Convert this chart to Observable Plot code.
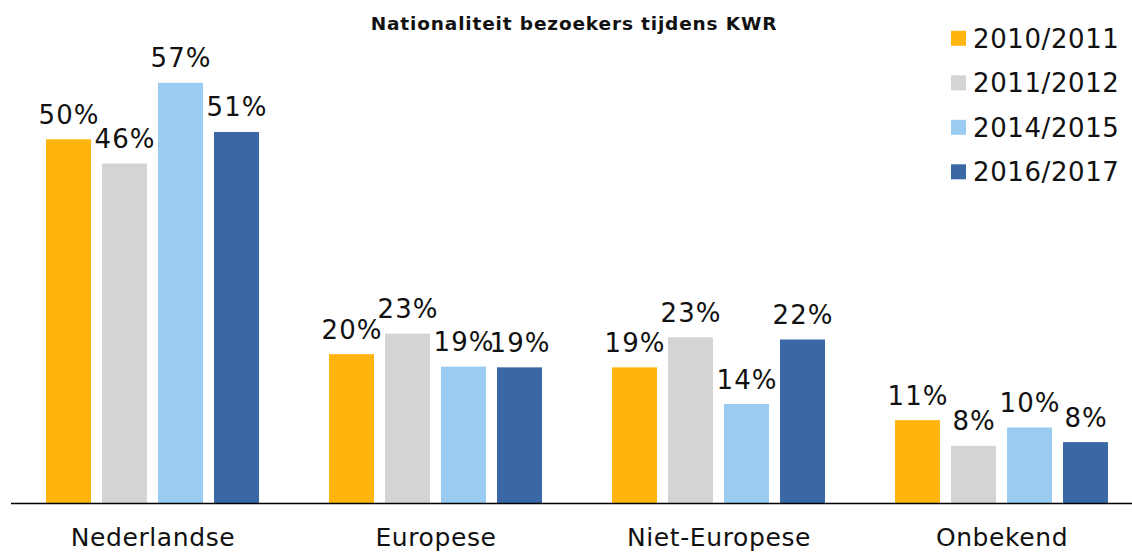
<!DOCTYPE html>
<html>
<head>
<meta charset="utf-8">
<script src="https://cdn.jsdelivr.net/npm/d3@7"></script>
<script src="https://cdn.jsdelivr.net/npm/@observablehq/plot@0.6"></script>
<style>
  html, body { margin: 0; padding: 0; background: #fff; }
  #wrap { position: relative; width: 1132px; height: 554px; overflow: hidden; font-family: "DejaVu Sans", Verdana, sans-serif; }
  #wrap svg { position: absolute; left: 0; top: 0; }
  .vlab text { letter-spacing: 1px; }
  .catax text { letter-spacing: 0.6px; }
</style>
</head>
<body>
<div id="wrap"></div>
<script>
const title = "Nationaliteit bezoekers tijdens KWR";
const categories = ["Nederlandse", "Europese", "Niet-Europese", "Onbekend"];
const seasons = ["2010/2011", "2011/2012", "2014/2015", "2016/2017"];
const colors = ["#FFB50D", "#D4D4D4", "#9ACBF0", "#3A68A6"];
const v2010 = [49.6, 20.3, 18.5, 11.3];
const v2011 = [46.3, 23.1, 22.6, 7.8];
const v2014 = [57.3, 18.6, 13.5, 10.3];
const v2016 = [50.6, 18.5, 22.3, 8.3];

const series = [v2010, v2011, v2014, v2016];
const data = [];
categories.forEach((c, i) => {
  seasons.forEach((s, j) => {
    data.push({category: c, season: s, value: series[j][i]});
  });
});

const chart = Plot.plot({
  width: 1132,
  height: 554,
  marginTop: 0,
  marginBottom: 51,
  marginLeft: 9,
  marginRight: -12,
  style: {fontFamily: "'DejaVu Sans', Verdana, sans-serif", background: "transparent"},
  fx: {domain: categories, padding: 0, label: null},
  x: {domain: seasons, paddingInner: 0.194, paddingOuter: 0.6, axis: null},
  y: {domain: [0, 68.6], axis: null},
  color: {domain: seasons, range: colors},
  marks: [
    Plot.barY(data, {fx: "category", x: "season", y: "value", fill: "season"}),
    Plot.text(data, {fx: "category", x: "season", y: "value", text: d => Math.round(d.value) + "%",
      lineAnchor: "bottom", dy: -16, fontSize: 26, fill: "#111", className: "vlab"}),
    Plot.ruleY([0], {stroke: "#000", strokeWidth: 1.5}),
    Plot.axisFx({anchor: "bottom", tickSize: 0, tickPadding: 25, fontSize: 25, label: null, fill: "#111", className: "catax"})
  ]
});
document.getElementById("wrap").appendChild(chart);

// title + legend overlay
const ov = d3.select("#wrap").append("svg").attr("width", 1132).attr("height", 554)
  .style("font-family", "'DejaVu Sans', Verdana, sans-serif");
ov.append("text").attr("x", 574).attr("y", 29.5).attr("text-anchor", "middle")
  .attr("font-weight", "bold").attr("font-size", 18.5).attr("letter-spacing", "0.85px")
  .attr("fill", "#111").text(title);
const lg = ov.selectAll("g.lg").data(seasons).join("g").attr("class", "lg")
  .attr("transform", (d, i) => `translate(951, ${38.3 + i * 44.5})`);
lg.append("rect").attr("x", 0).attr("y", -7.5).attr("width", 15).attr("height", 15)
  .attr("fill", (d, i) => colors[i]);
lg.append("text").attr("x", 22).attr("y", 9.5).attr("font-size", 26).attr("letter-spacing", "0.6px")
  .attr("fill", "#111").text(d => d);
</script>
</body>
</html>
